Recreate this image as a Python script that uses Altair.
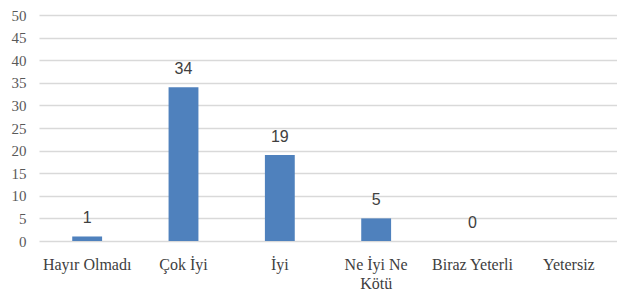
import altair as alt
import pandas as pd

categories = ["Hayır Olmadı", "Çok İyi", "İyi", "Ne İyi Ne Kötü", "Biraz Yeterli", "Yetersiz"]
values = [1, 34, 19, 5, 0, None]
y_ticks = [0, 5, 10, 15, 20, 25, 30, 35, 40, 45, 50]

df = pd.DataFrame({"cat": categories, "val": values})

serif = "Liberation Serif"

x = alt.X("cat:N", sort=categories, title=None,
          scale=alt.Scale(paddingInner=0.69, paddingOuter=0.345),
          axis=alt.Axis(labelAngle=0, labelFont=serif, labelFontSize=16,
                        labelColor="#404040", ticks=False, domain=False, labelPadding=15,
                        labelExpr="datum.value == 'Ne İyi Ne Kötü' ? ['Ne İyi Ne', 'Kötü'] : datum.value",
                        labelLineHeight=19, labelOverlap=False))
y = alt.Y("val:Q", title=None,
          scale=alt.Scale(domain=[0, 50], nice=False),
          axis=alt.Axis(values=y_ticks, tickCount=11, labelFont=serif, labelFontSize=15,
                        labelColor="#595959", ticks=False, domain=False, labelPadding=13,
                        labelOverlap=False, gridColor="#d9d9d9", gridWidth=1.3))

bars = alt.Chart(df).mark_bar(color="#4f81bd").encode(x=x, y=y)
labels = alt.Chart(df).transform_filter("isValid(datum.val)").mark_text(
    dy=-18, font="Liberation Sans", fontSize=16, color="#404040"
).encode(x=alt.X("cat:N", sort=categories), y="val:Q", text="val:Q")

chart = (bars + labels).properties(
    width=578, height=226,
    padding={"left": 31, "top": 7, "right": 0, "bottom": 50},
    autosize=alt.AutoSizeParams(type="none"),
).configure_view(stroke=None)

chart.save("out.html", embed_options={"renderer": "svg", "actions": False})
